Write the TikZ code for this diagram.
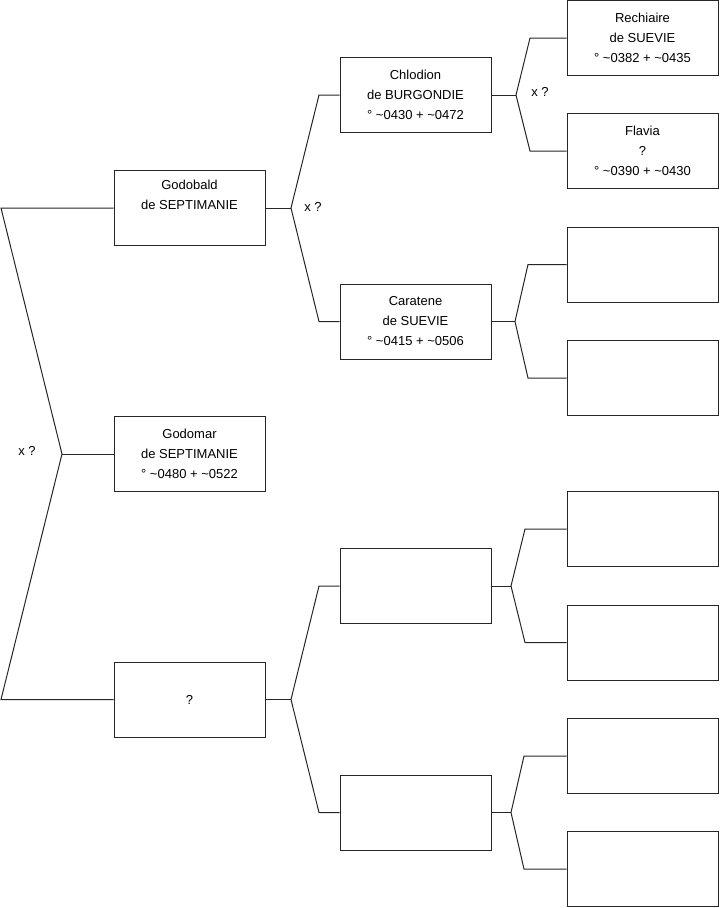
\documentclass[tikz,border=0pt]{standalone}
\usepackage{fontspec}
\setmainfont{Liberation Sans}
\begin{document}
\begin{tikzpicture}[x=0.75pt,y=-0.75pt,
  box/.style={draw=black!85, line width=0.75pt, minimum width=113.25pt, minimum height=56.25pt,
    inner sep=0pt, align=center, font=\fontsize{9.75}{15}\selectfont},
  link/.style={draw=black!85, line width=0.75pt},
  lbl/.style={font=\fontsize{9.75}{11}\selectfont, inner sep=0pt}]
\useasboundingbox (0,0) rectangle (719,908);
% level 1
\node[box] (godobald) at (189.5,208) {Godobald\\de SEPTIMANIE\\[1pt]\strut};
\node[box] (godomar) at (189.5,454) {Godomar\\de SEPTIMANIE\\° \textasciitilde0480 + \textasciitilde0522};
\node[box] (unk) at (189.5,699.5) {?};
% level 2
\node[box] (chlodion) at (415.5,95) {Chlodion\\de BURGONDIE\\° \textasciitilde0430 + \textasciitilde0472};
\node[box] (caratene) at (415.5,321.5) {Caratene\\de SUEVIE\\° \textasciitilde0415 + \textasciitilde0506};
\node[box] (b1) at (415.5,586) {};
\node[box] (b2) at (415.5,812.5) {};
% level 3
\node[box] (rechiaire) at (642.5,38) {Rechiaire\\de SUEVIE\\° \textasciitilde0382 + \textasciitilde0435};
\node[box] (flavia) at (642.5,151) {Flavia\\?\\° \textasciitilde0390 + \textasciitilde0430};
\node[box] (c3) at (642.5,264.5) {};
\node[box] (c4) at (642.5,378) {};
\node[box] (c5) at (642.5,529) {};
\node[box] (c6) at (642.5,642.5) {};
\node[box] (c7) at (642.5,756) {};
\node[box] (c8) at (642.5,869) {};
% root fork
\coordinate (r0t) at (1,208);
\coordinate (r0v) at (62,454);
\coordinate (r0b) at (1,699.5);
\draw[link] (godobald.west) -- (r0t) -- (r0v) -- (r0b) -- (unk.west);
\draw[link] (r0v) -- (godomar.west);
\node[lbl] (x0) at (27,451) {x ?};
% godobald fork
\coordinate (g1v) at (291,208);
\coordinate (g1a) at (319,95);
\coordinate (g1b) at (319,321.5);
\draw[link] (godobald.east) -- (g1v);
\draw[link] (chlodion.west) -- (g1a) -- (g1v) -- (g1b) -- (caratene.west);
\node[lbl] (x1) at (313,207) {x ?};
% unknown fork
\coordinate (u1v) at (291,699.5);
\coordinate (u1a) at (319,586);
\coordinate (u1b) at (319,812.5);
\draw[link] (unk.east) -- (u1v);
\draw[link] (b1.west) -- (u1a) -- (u1v) -- (u1b) -- (b2.west);
% chlodion fork
\coordinate (chv) at (516,95);
\coordinate (cha) at (530,38);
\coordinate (chb) at (530,151);
\draw[link] (chlodion.east) -- (chv);
\draw[link] (rechiaire.west) -- (cha) -- (chv) -- (chb) -- (flavia.west);
\node[lbl] (x2) at (540,92) {x ?};
% caratene fork
\coordinate (cav) at (515,321.5);
\coordinate (caa) at (528,264.5);
\coordinate (cab) at (528,378);
\draw[link] (caratene.east) -- (cav);
\draw[link] (c3.west) -- (caa) -- (cav) -- (cab) -- (c4.west);
% b1 fork
\coordinate (b1v) at (511,586);
\coordinate (b1a) at (525,529);
\coordinate (b1b) at (525,642.5);
\draw[link] (b1.east) -- (b1v);
\draw[link] (c5.west) -- (b1a) -- (b1v) -- (b1b) -- (c6.west);
% b2 fork
\coordinate (b2v) at (511,812.5);
\coordinate (b2a) at (524,756);
\coordinate (b2b) at (524,869);
\draw[link] (b2.east) -- (b2v);
\draw[link] (c7.west) -- (b2a) -- (b2v) -- (b2b) -- (c8.west);
\end{tikzpicture}
\end{document}
